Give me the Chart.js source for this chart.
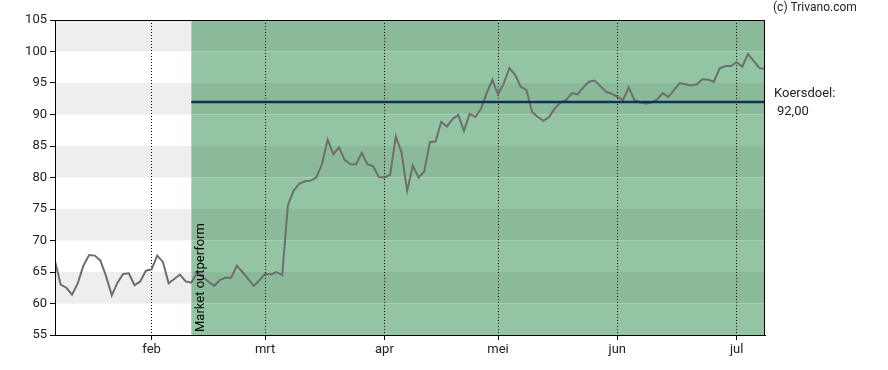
<!DOCTYPE html>
<html>
<head>
<meta charset="utf-8">
<script src="https://cdn.jsdelivr.net/npm/chart.js@4/dist/chart.umd.min.js"></script>
<style>
html,body{margin:0;padding:0;background:#fff;}
#wrap{width:888px;height:370px;position:relative;}
</style>
</head>
<body>
<div id="wrap"><canvas id="c" width="888" height="370"></canvas></div>
<script>
// ---- data ----
const dayIndex = Array.from({length:126}, (_, i) => i); // trading day positions
const prices = [
66.7,63.0,62.5,61.4,63.2,66.0,67.7,67.6,66.8,64.3,
61.3,63.3,64.7,64.8,62.9,63.5,65.2,65.4,67.6,66.6,
63.2,63.9,64.6,63.5,63.3,64.9,64.2,63.5,62.8,63.7,
64.1,64.1,66.0,65.0,63.9,62.8,63.7,64.7,64.6,65.0,
64.5,75.6,77.9,79.0,79.4,79.5,80.0,82.1,86.0,83.7,
84.8,82.8,82.1,82.1,83.9,82.1,81.8,80.1,80.0,80.4,
86.5,84.0,77.9,81.9,80.0,80.9,85.6,85.7,88.8,88.1,
89.3,89.9,87.4,90.1,89.6,90.9,93.4,95.5,93.2,94.9,
97.4,96.3,94.4,93.9,90.4,89.6,89.0,89.6,91.0,91.9,
92.3,93.4,93.2,94.3,95.2,95.4,94.5,93.6,93.3,92.8,
92.3,94.3,92.3,91.9,91.7,91.9,92.4,93.4,92.8,93.9,
95.0,94.8,94.6,94.8,95.6,95.5,95.2,97.3,97.7,97.7,
98.3,97.6,99.6,98.5,97.4,97.2
];
const monthLabels = ['feb','mrt','apr','mei','jun','jul'];
const monthStartIndex = [17,37,58,78,99,120];
const targetPrice = 92.00;
const targetLabel = 'Koersdoel:';
const targetValueText = '92,00';
const outperformStartIndex = 24;
const outperformLabel = 'Market outperform';
const copyrightText = '(c) Trivano.com';
const yMin = 55, yMax = 105, yStep = 5;

// ---- datasets built from arrays ----
const priceData = dayIndex.map((d, i) => ({x: d, y: prices[i]}));
const targetData = dayIndex.filter(d => d >= outperformStartIndex).map(d => ({x: d, y: targetPrice}));

const FONT = 'Roboto, "Liberation Sans", Arial, sans-serif';

const bandsPlugin = {
  id: 'bands',
  beforeDraw(chart) {
    const {ctx, chartArea: a, scales: {x, y}} = chart;
    const xg = x.getPixelForValue(outperformStartIndex);
    ctx.save();
    for (let v = yMin; v < yMax; v += yStep) {
      const top = y.getPixelForValue(v + yStep), bot = y.getPixelForValue(v);
      const odd = ((v - yMin) / yStep) % 2 === 1;
      ctx.fillStyle = odd ? '#eeeeee' : '#ffffff';
      ctx.fillRect(a.left, top, xg - a.left, bot - top);
      ctx.fillStyle = odd ? '#8aba9a' : '#93c4a3';
      ctx.fillRect(xg, top, a.right - xg, bot - top);
    }
    ctx.restore();
  },
  afterDraw(chart) {
    const {ctx, chartArea: a, scales: {x, y}} = chart;
    ctx.save();
    ctx.strokeStyle = '#000';
    ctx.lineWidth = 1;
    ctx.strokeRect(a.left + 0.5, a.top + 0.5, a.right - a.left - 1, a.bottom - a.top);
    // texts
    ctx.fillStyle = '#222';
    ctx.textBaseline = 'middle';
    ctx.textAlign = 'left';
    ctx.font = '12px ' + FONT;
    ctx.fillText(copyrightText, a.right + 8, 8);
    ctx.font = '13px ' + FONT;
    const ty = y.getPixelForValue(targetPrice);
    ctx.fillText(targetLabel, a.right + 9, ty - 8);
    ctx.fillText(targetValueText, a.right + 12, ty + 10);
    // vertical label
    const xg = x.getPixelForValue(outperformStartIndex);
    ctx.translate(xg + 9, a.bottom - 3);
    ctx.rotate(-Math.PI / 2);
    ctx.fillStyle = '#000';
    ctx.font = '13px ' + FONT;
    ctx.textAlign = 'left';
    ctx.fillText(outperformLabel, 0, 0);
    ctx.restore();
  }
};

new Chart(document.getElementById('c'), {
  type: 'line',
  data: {
    datasets: [
      {data: targetData, borderColor: '#0b3550', borderWidth: 2.5, pointRadius: 0, tension: 0},
      {data: priceData, borderColor: '#6e6e6e', borderWidth: 2, pointRadius: 0, tension: 0}
    ]
  },
  options: {
    responsive: false,
    animation: false,
    events: [],
    layout: {padding: {left: 0, top: 20, right: 123, bottom: 0}},
    plugins: {legend: {display: false}, tooltip: {enabled: false}},
    scales: {
      x: {
        type: 'linear',
        min: 0,
        max: dayIndex[dayIndex.length - 1],
        afterBuildTicks(scale) {
          scale.ticks = monthStartIndex.map(v => ({value: v}));
        },
        afterFit(scale) { scale.height = 35; },
        ticks: {
          autoSkip: false,
          maxRotation: 0,
          color: '#222',
          font: {family: FONT, size: 13},
          padding: 2,
          callback(value) {
            const k = monthStartIndex.indexOf(value);
            return k >= 0 ? monthLabels[k] : '';
          }
        },
        grid: {color: '#000', lineWidth: 1, drawTicks: true, tickLength: 5, tickColor: '#000', tickBorderDash: []},
        border: {display: true, color: '#000', dash: [1, 2]}
      },
      y: {
        min: yMin,
        max: yMax,
        afterFit(scale) { scale.width = 55; },
        ticks: {
          stepSize: yStep,
          color: '#222',
          font: {family: FONT, size: 13},
          padding: 3
        },
        grid: {drawOnChartArea: false, drawTicks: true, tickLength: 5, tickColor: '#000'},
        border: {display: true, color: '#000'}
      }
    }
  },
  plugins: [bandsPlugin]
});
</script>
</body>
</html>
